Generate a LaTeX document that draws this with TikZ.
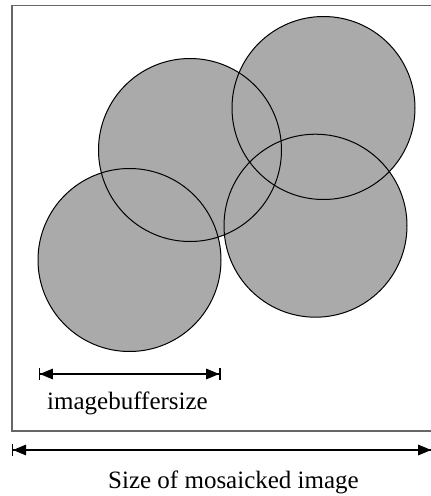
\documentclass[tikz,border=0pt]{standalone}
\usepackage{fontspec}
\setmainfont{Liberation Serif}
\usetikzlibrary{arrows.meta}
\definecolor{tilegray}{HTML}{AAAAAA}
\definecolor{framegray}{HTML}{666666}
\tikzset{
	tile/.style={fill=tilegray},
	tileline/.style={draw=black, line width=1pt},
	dimarrow/.style={line width=1.3pt, {Bar[width=12pt,sep=0pt]Triangle[length=13pt,width=10.5pt]}-{Triangle[length=13pt,width=10.5pt,sep=0pt]Bar[width=12pt]}},
	dimlabel/.style={anchor=base, inner sep=0pt, font=\fontsize{25}{30}\selectfont}
}

\begin{document}
\begin{tikzpicture}[x=1pt, y=-1pt]
	\useasboundingbox (0,0) rectangle (431,496);
	
	% Draw mosaic frame
	\draw[framegray, line width=1.3pt] (12,5.5) rectangle (433,431);
	
	% Fill image tiles first, then outline them
	\foreach \cx/\cy in {190/150, 323.5/108, 315.5/225.7, 129.5/260}
		\fill[tile] (\cx,\cy) circle (91.5pt);
	\foreach \cx/\cy in {190/150, 323.5/108, 315.5/225.7, 129.5/260}
		\draw[tileline] (\cx,\cy) circle (91.5pt);
	
	% Buffer size arrow
	\coordinate (bufL) at (38.5,374);
	\coordinate (bufR) at (220.5,374);
	\draw[dimarrow] (bufL) -- (bufR);
	\node[dimlabel] (buflabel) at (127.5,409) {imagebuffersize};
	
	% Mosaic size arrow
	\coordinate (mosL) at (11.7,450);
	\coordinate (mosR) at (432.5,450);
	\draw[dimarrow] (mosL) -- (mosR);
	\node[dimlabel] (sizelabel) at (233.5,488) {Size of mosaicked image};
\end{tikzpicture}
\end{document}
